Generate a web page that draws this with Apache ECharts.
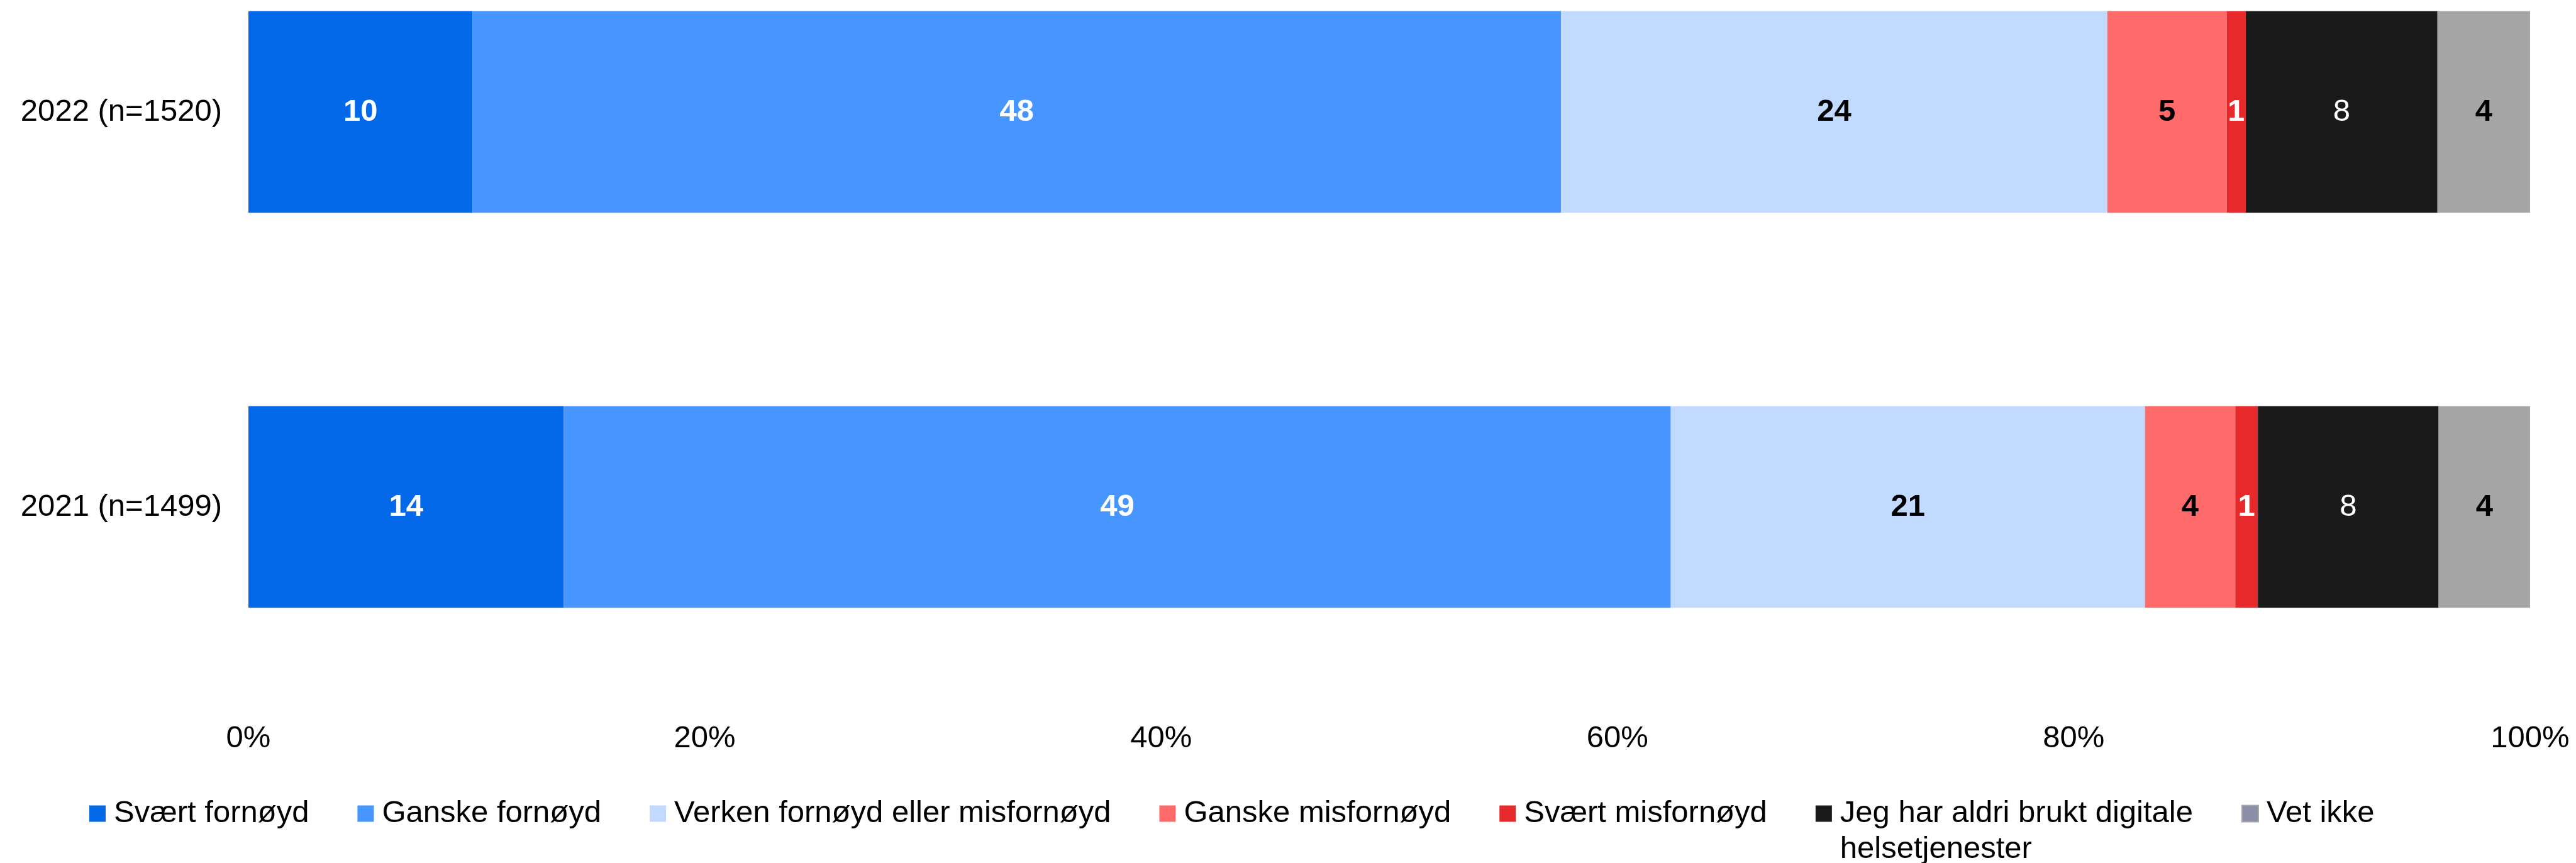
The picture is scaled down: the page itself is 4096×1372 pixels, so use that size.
<!DOCTYPE html>
<html>
<head>
<meta charset="utf-8">
<title>Fornøydhet med digitale helsetjenester</title>
<script src="https://cdn.jsdelivr.net/npm/echarts@6/dist/echarts.min.js"></script>
<style>
  html, body { margin: 0; padding: 0; background: #ffffff; }
  #chart { width: 4096px; height: 1372px; }
</style>
</head>
<body>
<div id="chart"></div>
<script>
// Survey years (rows of the chart)
const categories = ['2022 (n=1520)', '2021 (n=1499)'];

// Answer categories (stack order, left to right)
const answerNames = [
  'Svært fornøyd',
  'Ganske fornøyd',
  'Verken fornøyd eller misfornøyd',
  'Ganske misfornøyd',
  'Svært misfornøyd',
  'Jeg har aldri brukt digitale helsetjenester',
  'Vet ikke'
];

// Share of respondents (%) per answer, [2022, 2021]
const sværtFornøyd      = [9.82, 13.82];
const ganskeFornøyd     = [47.71, 48.52];
const verken            = [23.94, 20.78];
const ganskeMisfornøyd  = [5.23, 3.96];
const sværtMisfornøyd   = [0.84, 0.99];
const aldriBrukt        = [8.40, 7.92];
const vetIkke           = [4.06, 4.01];

// Axis ticks
const xTicks = [0, 20, 40, 60, 80, 100];

const seriesValues = [sværtFornøyd, ganskeFornøyd, verken, ganskeMisfornøyd, sværtMisfornøyd, aldriBrukt, vetIkke];

const FONT = "'Liberation Sans', Arial, Helvetica, sans-serif";
const colors = ['#0369E8', '#4796FF', '#C2DAFF', '#FF6B6B', '#E8292C', '#1A1A1A', '#A6A6A6'];
const labelColors = ['#FFFFFF', '#FFFFFF', '#000000', '#000000', '#FFFFFF', '#FFFFFF', '#000000'];
const labelWeights = ['bold', 'bold', 'bold', 'bold', 'bold', 'normal', 'bold'];

const chart = echarts.init(document.getElementById('chart'), null, { renderer: 'canvas' });

const series = answerNames.map((name, i) => ({
  name: name,
  type: 'bar',
  stack: 'total',
  barWidth: 320.5,
  data: seriesValues[i],
  itemStyle: { color: colors[i] },
  emphasis: { disabled: true },
  label: {
    show: true,
    position: 'inside',
    formatter: p => String(Math.round(p.value)),
    color: labelColors[i],
    fontFamily: FONT,
    fontSize: 49,
    fontWeight: labelWeights[i],
    textBorderWidth: 0
  }
}));

const legendData = answerNames.map(name => {
  if (name === 'Vet ikke') {
    return { name: name, itemStyle: { color: '#8B8FA8', borderColor: '#A6A6A6', borderWidth: 2 } };
  }
  return { name: name };
});

chart.setOption({
  animation: false,
  backgroundColor: '#ffffff',
  textStyle: { fontFamily: FONT },
  grid: {
    left: 395,
    right: 73,
    top: -136,
    bottom: 252,
    containLabel: false,
    outerBoundsMode: 'none'
  },
  xAxis: {
    type: 'value',
    min: xTicks[0],
    max: xTicks[xTicks.length - 1],
    interval: xTicks[1] - xTicks[0],
    axisLine: { show: false },
    axisTick: { show: false },
    splitLine: { show: false },
    axisLabel: {
      formatter: '{value}%',
      color: '#000000',
      fontFamily: FONT,
      fontSize: 49,
      lineHeight: 49,
      margin: 30
    }
  },
  yAxis: {
    type: 'category',
    inverse: true,
    data: categories,
    axisLine: { show: false },
    axisTick: { show: false },
    splitLine: { show: false },
    axisLabel: {
      color: '#000000',
      fontFamily: FONT,
      fontSize: 49,
      margin: 42
    }
  },
  legend: {
    left: 142,
    top: 1208,
    padding: 0,
    itemWidth: 26,
    itemHeight: 26,
    itemGap: 77,
    icon: 'rect',
    selectedMode: false,
    data: legendData,
    formatter: name => name === 'Jeg har aldri brukt digitale helsetjenester'
      ? ' \nJeg har aldri brukt digitale\nhelsetjenester'
      : name,
    textStyle: {
      color: '#000000',
      fontFamily: FONT,
      fontSize: 49,
      lineHeight: 57,
      padding: [0, 0, 0, 8]
    }
  },
  series: series
});
</script>
</body>
</html>
